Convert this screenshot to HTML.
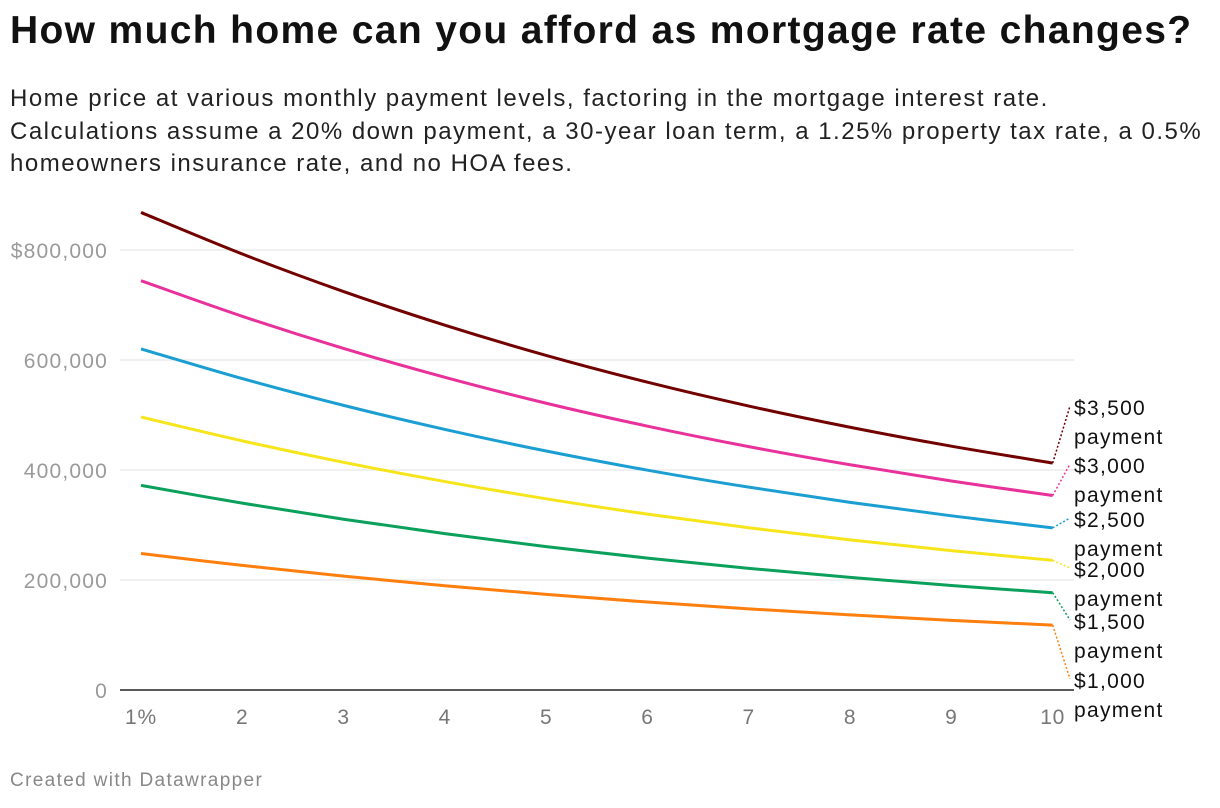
<!DOCTYPE html>
<html><head><meta charset="utf-8"><style>
body{margin:0;background:#fff;width:1220px;height:808px;overflow:hidden;font-family:"Liberation Sans",Arial,sans-serif;}
h1{position:absolute;left:10px;top:9px;margin:0;font-size:39px;font-weight:bold;color:#111;letter-spacing:1.35px;white-space:nowrap}
.sub{position:absolute;left:10px;top:83px;font-size:24px;line-height:32.5px;color:#222;width:1215px;letter-spacing:1.5px;white-space:nowrap}
.foot{position:absolute;left:10px;top:770px;font-size:19px;color:#888;letter-spacing:1.35px}
svg{position:absolute;left:0;top:0}
</style></head><body>
<h1>How much home can you afford as mortgage rate changes?</h1>
<div class="sub">Home price at various monthly payment levels, factoring in the mortgage interest rate.<br>Calculations assume a 20% down payment, a 30-year loan term, a 1.25% property tax rate, a 0.5%<br>homeowners insurance rate, and no HOA fees.</div>
<svg id="chart" width="1220" height="808"></svg>
<div class="foot">Created with Datawrapper</div>
<script>
const rates=[1,2,3,4,5,6,7,8,9,10];
const pay1000=[248100,226500,207000,189500,173800,159900,147500,136500,126700,117900];
const pay1500=[372100,339700,310500,284300,260700,239800,221200,204700,190000,176900];
const pay2000=[496200,453000,414000,379000,347600,319800,295000,273000,253400,235800];
const pay2500=[620200,566200,517500,473800,434500,399700,368800,341200,316700,294800];
const pay3000=[744200,679500,621000,568500,521400,479700,442500,409500,380000,353700];
const pay3500=[868300,792700,724500,663300,608300,559600,516300,477700,443300,412700];
const seriesNames=["$3,500","$3,000","$2,500","$2,000","$1,500","$1,000"];
const seriesData=[pay3500,pay3000,pay2500,pay2000,pay1500,pay1000];
const colors=["#730000","#e8319a","#1b9fd3","#f7e51b","#0ba05b","#ff7f0e"];
const yTicks=[0,200000,400000,600000,800000];
const yTickLabels=["0","200,000","400,000","600,000","$800,000"];
const xTickLabels=["1%","2","3","4","5","6","7","8","9","10"];
const labelY=[408,466,520,570,622,681];
const NS="http://www.w3.org/2000/svg";
const svg=document.getElementById('chart');
const x=v=>141+(v-1)*101.3;
const y=v=>690-v/200000*110;
function mk(t,a){const e=document.createElementNS(NS,t);for(const k in a)e.setAttribute(k,a[k]);svg.appendChild(e);return e;}
yTicks.forEach((t,i)=>{
 if(t>0){const g=mk('line',{x1:120,x2:1074,y1:y(t),y2:y(t),stroke:'#e0e0e0','stroke-width':1});
 
 }
 const l=mk('text',{x:108,y:y(t)+8,'text-anchor':'end','font-size':21,fill:'#9a9a9a','letter-spacing':1.2});
 l.textContent=yTickLabels[i];
 
 
});
const base=mk('line',{x1:120,x2:1074,y1:690,y2:690,stroke:'#222','stroke-width':1.5});


rates.forEach((r,i)=>{
 const t=mk('text',{x:x(r),y:724,'text-anchor':'middle','font-size':21,fill:'#777','letter-spacing':0.8});
 t.textContent=xTickLabels[i];
 
 
});
function path(d){
 const p=d.map((v,i)=>[x(rates[i]),y(v)]);
 let s='M'+p[0][0]+','+p[0][1];
 for(let i=0;i<p.length-1;i++){
  const p0=p[i-1]||p[i],p1=p[i],p2=p[i+1],p3=p[i+2]||p2;
  const c1=[p1[0]+(p2[0]-p0[0])/6,p1[1]+(p2[1]-p0[1])/6];
  const c2=[p2[0]-(p3[0]-p1[0])/6,p2[1]-(p3[1]-p1[1])/6];
  s+=' C'+c1+' '+c2+' '+p2;
 }
 return s;
}
seriesData.forEach((d,i)=>{
 const ln=mk('path',{d:path(d),fill:'none',stroke:colors[i],'stroke-width':3});
 
 
 const ex=x(rates[rates.length-1]),ey=y(d[d.length-1]);
 const c=mk('line',{x1:ex,y1:ey,x2:1070,y2:labelY[i]-2,stroke:colors[i],'stroke-width':1.5,'stroke-dasharray':'2,2'});
 
 
 const t=mk('text',{x:1074,y:labelY[i]+7,'font-size':21,fill:'#111','letter-spacing':1.3});
 
 
 const a=document.createElementNS(NS,'tspan');a.setAttribute('x',1074);a.textContent=seriesNames[i];t.appendChild(a);
 const b=document.createElementNS(NS,'tspan');b.setAttribute('x',1074);b.setAttribute('dy',29);b.textContent='payment';t.appendChild(b);
});
</script>
</body></html>
